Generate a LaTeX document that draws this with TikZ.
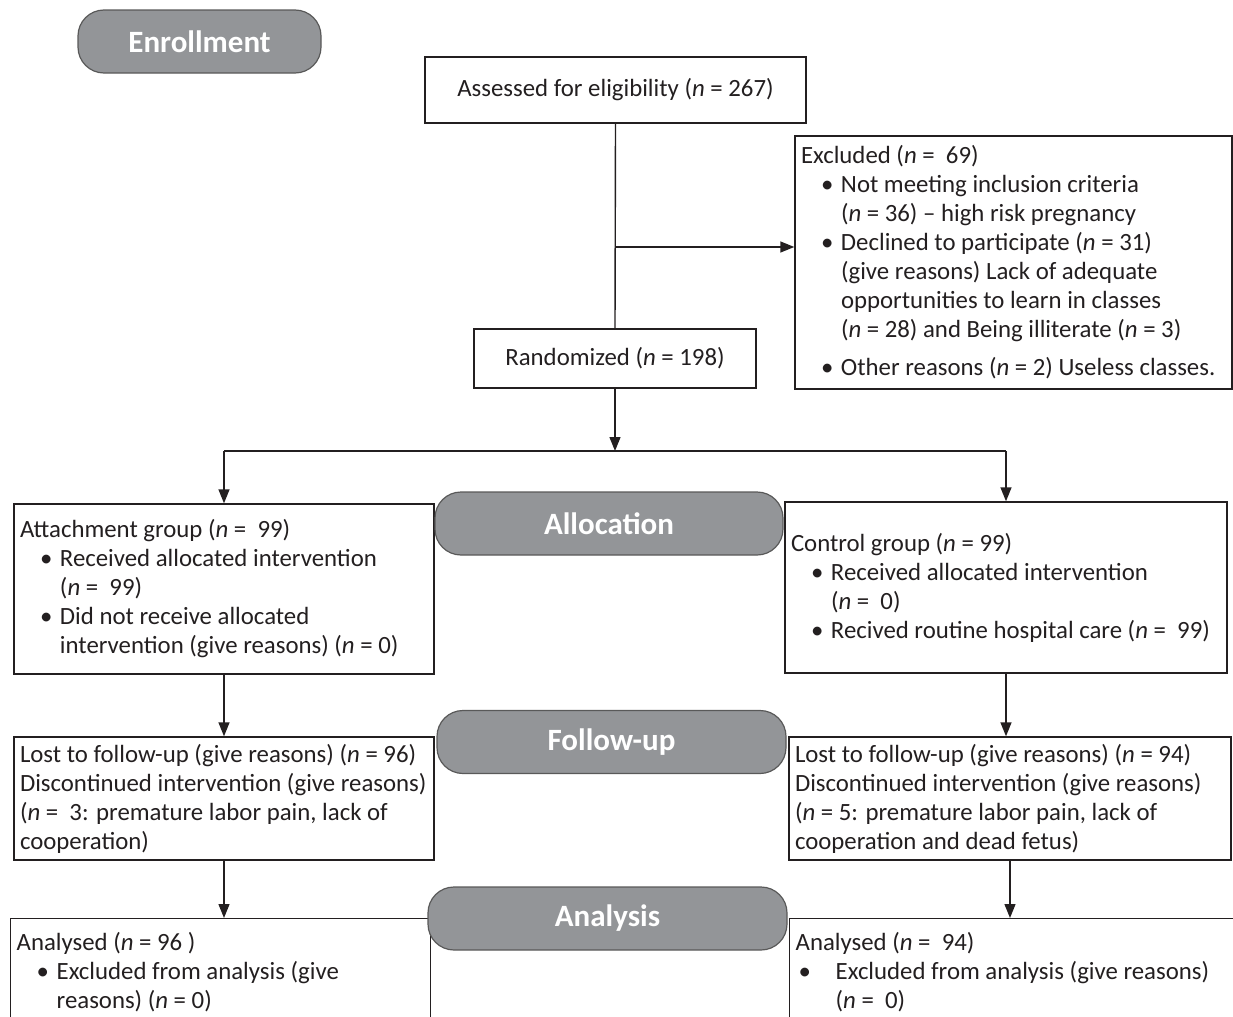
\documentclass[tikz,border=0pt]{standalone}
\usepackage{fontspec}
\setmainfont{Carlito}
\usetikzlibrary{arrows.meta}

\definecolor{stagegray}{RGB}{147,149,152}
\definecolor{inkgray}{RGB}{35,31,32}
% bulleted line with hanging indent
\newcommand{\bitem}[2][10pt]{\par{\leftskip=20pt\noindent\hspace*{-#1}\makebox[#1][l]{\textbullet}#2\par}}

\begin{document}
\begin{tikzpicture}[
      x=0.5pt, y=-0.5pt,
      >={Triangle[length=7pt,width=5.5pt]},
      font=\fontsize{12.4}{14.5}\selectfont, text=inkgray,
      plainbox/.style={rectangle, draw=inkgray, line width=0.7pt, fill=white,
          inner xsep=3pt, inner ysep=2pt},
      infobox/.style={plainbox, align=flush left,
          execute at begin node={\rightskip=-8pt plus 1fil\relax}},
      midbox/.style={plainbox, align=flush center},
      stagebox/.style={rectangle, rounded corners=13pt, draw=black!65, line width=0.6pt,
          fill=stagegray, text=white, minimum height=31.5pt,
          font=\fontsize{15.5}{18}\selectfont\bfseries},
      link/.style={draw=inkgray, line width=0.7pt},
      flow/.style={link, ->}
  ]
  \useasboundingbox (0,0) rectangle (1233,1017);
  \clip (0,0) rectangle (1233,1017);

  % enrollment
  \node[midbox, text width=184.5pt, minimum height=33pt] (assess) at (615.5,90)
      {Assessed for eligibility (\textit{n} = 267)};
  \node[infobox, text width=212.5pt, minimum height=126.5pt] (excl) at (1013.5,262.5) {%
      Excluded (\textit{n} = \ 69)
      \bitem{Not meeting inclusion criteria\\(\textit{n} = 36) -- high risk pregnancy}
      \bitem{Declined to participate (\textit{n} = 31)\\(give reasons) Lack of adequate\\opportunities to learn in classes\\(\textit{n} = 28) and Being illiterate (\textit{n} = 3)}
      \vspace{4.5pt}
      \bitem{Other reasons (\textit{n} = 2) Useless classes.}};
  \node[midbox, text width=135pt, minimum height=29.5pt] (rand) at (615,358.5)
      {Randomized (\textit{n} = 198)};

  % allocation
  \node[infobox, text width=204pt, minimum height=85pt] (grpL) at (224,589) {%
      Attachment group (\textit{n} = \ 99)
      \bitem{Received allocated intervention\\(\textit{n} = \ 99)}
      \bitem{Did not receive allocated\\intervention (give reasons) (\textit{n} = 0)}};
  \node[infobox, text width=215pt, minimum height=85.5pt] (grpR) at (1006,587.5) {%
      Control group (\textit{n} = 99)
      \bitem{Received allocated intervention\\(\textit{n} = \ 0)}
      \bitem{Recived routine hospital care (\textit{n} = \ 99)}};

  % follow-up
  \node[infobox, text width=204pt, minimum height=61.5pt] (lostL) at (224,798.5) {%
      Lost to follow-up (give reasons) (\textit{n} = 96)\\
      Discontinued intervention (give reasons)\\
      (\textit{n} = \ 3: premature labor pain, lack of\\
      cooperation)};
  \node[infobox, text width=215pt, minimum height=61.5pt] (lostR) at (1010,798.5) {%
      Lost to follow-up (give reasons) (\textit{n} = 94)\\
      Discontinued intervention (give reasons)\\
      (\textit{n} = 5: premature labor pain, lack of\\
      cooperation and dead fetus)};

  % analysis
  \node[infobox, anchor=north west, text width=204pt, inner ysep=7pt] (anaL) at (10,918) {%
      Analysed (\textit{n} = 96 )
      \bitem{Excluded from analysis (give\\reasons) (\textit{n} = 0)}
      \vspace{12pt}};
  \node[infobox, anchor=north west, text width=216pt, inner ysep=7pt] (anaR) at (789,918) {%
      Analysed (\textit{n} = \ 94)
      \bitem[18.5pt]{Excluded from analysis (give reasons)\\(\textit{n} = \ 0)}
      \vspace{12pt}};

  % connectors
  \coordinate (brk) at (615,247);
  \coordinate (split) at (615,451);
  \draw[link] (assess.south) -- (rand.north);
  \draw[flow] (brk) -- (excl.west |- brk);
  \draw[flow] (rand.south) -- (split);
  \draw[link] (split -| grpL.north) -- (split -| grpR.north);
  \draw[flow] (split -| grpL.north) -- (grpL.north);
  \draw[flow] (split -| grpR.north) -- (grpR.north);
  \draw[flow] (grpL.south) -- (lostL.north);
  \draw[flow] (grpR.south) -- (grpR.south |- lostR.north);
  \draw[flow] (lostL.south) -- (lostL.south |- anaL.north);
  \draw[flow] (lostR.south) -- (lostR.south |- anaR.north);

  % stage labels
  \node[stagebox, minimum width=121.5pt] (enrol) at (199.5,41.5) {Enrollment};
  \node[stagebox, minimum width=174pt] (alloc) at (609,523.5) {Allocation};
  \node[stagebox, minimum width=174.5pt] (fup) at (611.5,742) {Follow-up};
  \node[stagebox, minimum width=179.5pt] (anal) at (607.5,918.5) {Analysis};
\end{tikzpicture}
\end{document}
